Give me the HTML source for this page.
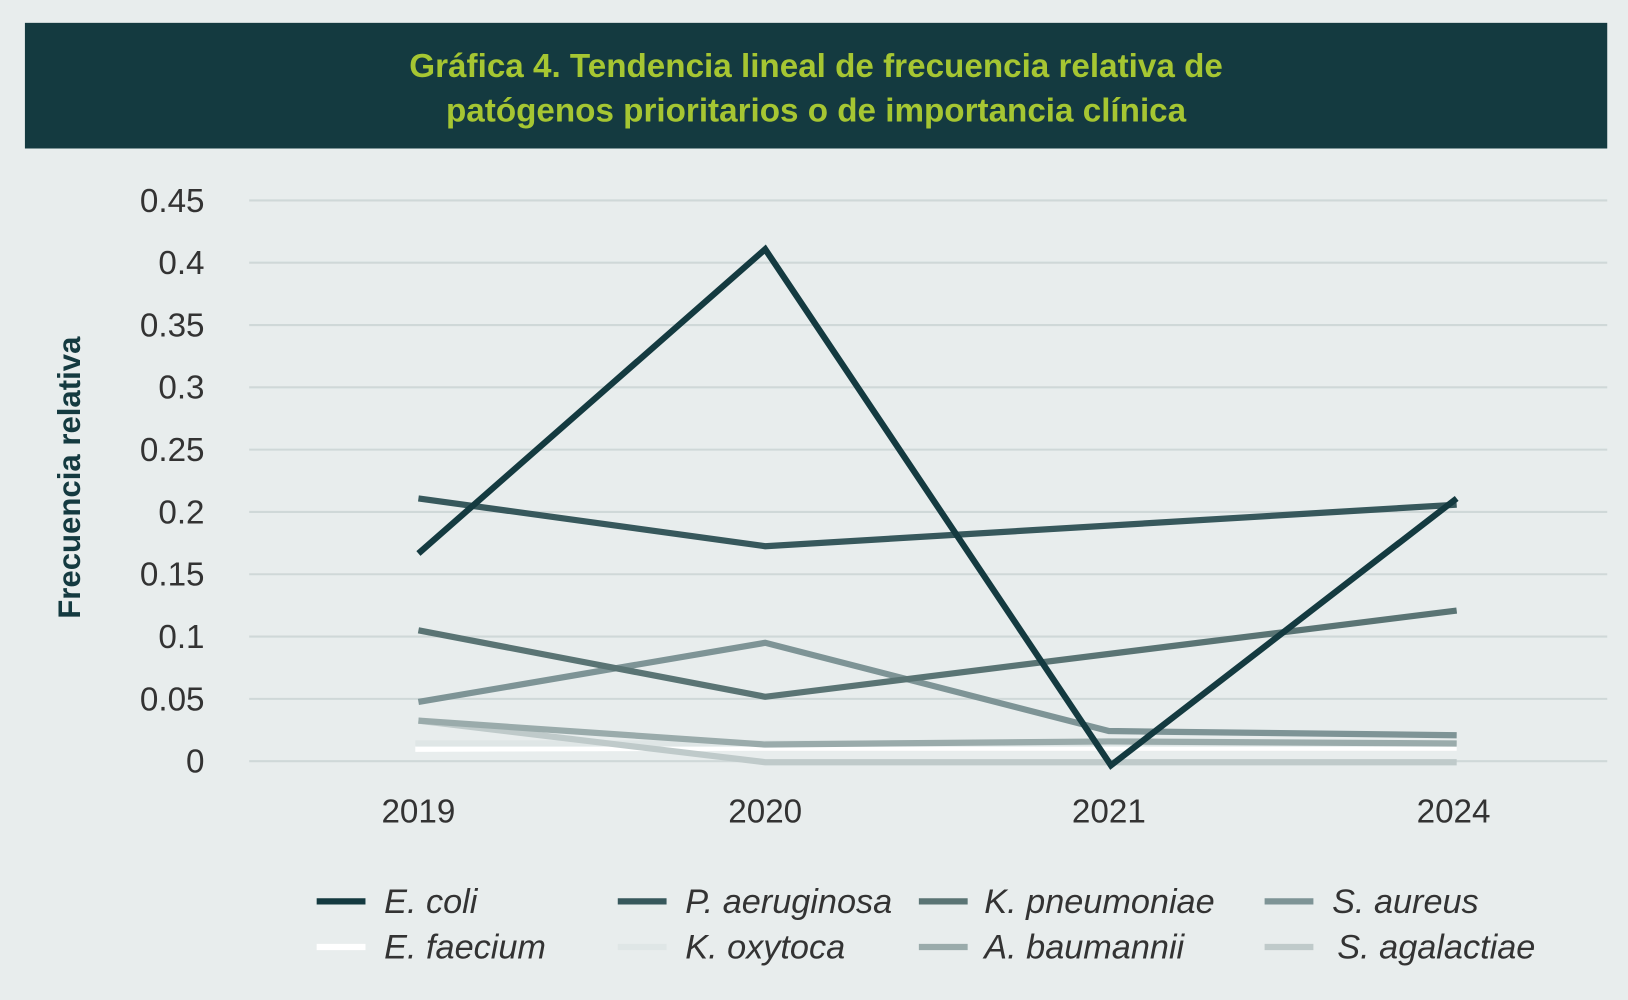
<!DOCTYPE html>
<html><head><meta charset="utf-8"><style>
html,body{margin:0;padding:0;background:#e8eded;}
svg{display:block;}
text{font-family:"Liberation Sans",sans-serif;}
</style></head><body>
<svg width="1628" height="1000" viewBox="0 0 1568 963" preserveAspectRatio="none" xmlns="http://www.w3.org/2000/svg">
<rect width="1568" height="963" fill="#e8eded"/>
<rect x="24" y="22" width="1524" height="121" fill="#143a40"/>
<text x="786" y="74" text-anchor="middle" font-size="32" font-weight="bold" fill="#a6c632">Gráfica 4. Tendencia lineal de frecuencia relativa de</text>
<text x="786" y="117" text-anchor="middle" font-size="32" font-weight="bold" fill="#a6c632">patógenos prioritarios o de importancia clínica</text>
<g stroke="#cfd8d8" stroke-width="2">
<line x1="240" x2="1548" y1="193" y2="193"/><line x1="240" x2="1548" y1="253" y2="253"/>
<line x1="240" x2="1548" y1="313" y2="313"/><line x1="240" x2="1548" y1="373" y2="373"/>
<line x1="240" x2="1548" y1="433" y2="433"/><line x1="240" x2="1548" y1="493" y2="493"/>
<line x1="240" x2="1548" y1="553" y2="553"/><line x1="240" x2="1548" y1="613" y2="613"/>
<line x1="240" x2="1548" y1="673" y2="673"/><line x1="240" x2="1548" y1="733" y2="733"/>
</g>
<g font-size="32" fill="#333" text-anchor="end">
<text x="197" y="204">0.45</text><text x="197" y="264">0.4</text><text x="197" y="324">0.35</text>
<text x="197" y="384">0.3</text><text x="197" y="444">0.25</text><text x="197" y="504">0.2</text>
<text x="197" y="564">0.15</text><text x="197" y="624">0.1</text><text x="197" y="684">0.05</text>
<text x="197" y="744">0</text>
</g>
<g font-size="32" fill="#333" text-anchor="middle">
<text x="403" y="792">2019</text><text x="737" y="792">2020</text><text x="1068" y="792">2021</text><text x="1400" y="792">2024</text>
</g>
<text transform="translate(77,460) rotate(-90)" text-anchor="middle" font-size="30" font-weight="bold" fill="#143a40">Frecuencia relativa</text>
<g fill="none" stroke-width="6" stroke-linejoin="miter">
<polyline stroke="#ffffff" points="400,721 737,720 1068,720 1403,720"/>
<polyline stroke="#dfe6e6" points="400,716 737,716 1068,716 1403,716"/>
<polyline stroke="#bfcaca" points="403,694 737,734 1068,734 1403,734"/>
<polyline stroke="#9aabab" points="403,694 737,717 1068,714 1403,716"/>
<polyline stroke="#7e9496" points="403,676 737,619 1068,704 1403,708"/>
<polyline stroke="#5a7474" points="403,607 737,671 1403,588"/>
<polyline stroke="#37585c" points="403,480 737,526 1403,486"/>
<polyline stroke="#143a40" points="403,533 737,240 1070,737 1403,480"/>
</g>
<g stroke-width="6">
<line x1="305" x2="352" y1="868" y2="868" stroke="#143a40"/>
<line x1="595" x2="642" y1="868" y2="868" stroke="#37585c"/>
<line x1="885" x2="932" y1="868" y2="868" stroke="#5a7474"/>
<line x1="1218" x2="1265" y1="868" y2="868" stroke="#7e9496"/>
<line x1="305" x2="352" y1="912" y2="912" stroke="#ffffff"/>
<line x1="595" x2="642" y1="912" y2="912" stroke="#dfe6e6"/>
<line x1="885" x2="932" y1="912" y2="912" stroke="#9aabab"/>
<line x1="1218" x2="1265" y1="912" y2="912" stroke="#bfcaca"/>
</g>
<g font-size="33" font-style="italic" fill="#333">
<text x="370" y="879">E. coli</text><text x="660" y="879">P. aeruginosa</text>
<text x="948" y="879">K. pneumoniae</text><text x="1283" y="879">S. aureus</text>
<text x="370" y="923">E. faecium</text><text x="660" y="923">K. oxytoca</text>
<text x="948" y="923">A. baumannii</text><text x="1288" y="923">S. agalactiae</text>
</g>
</svg>
</body></html>
